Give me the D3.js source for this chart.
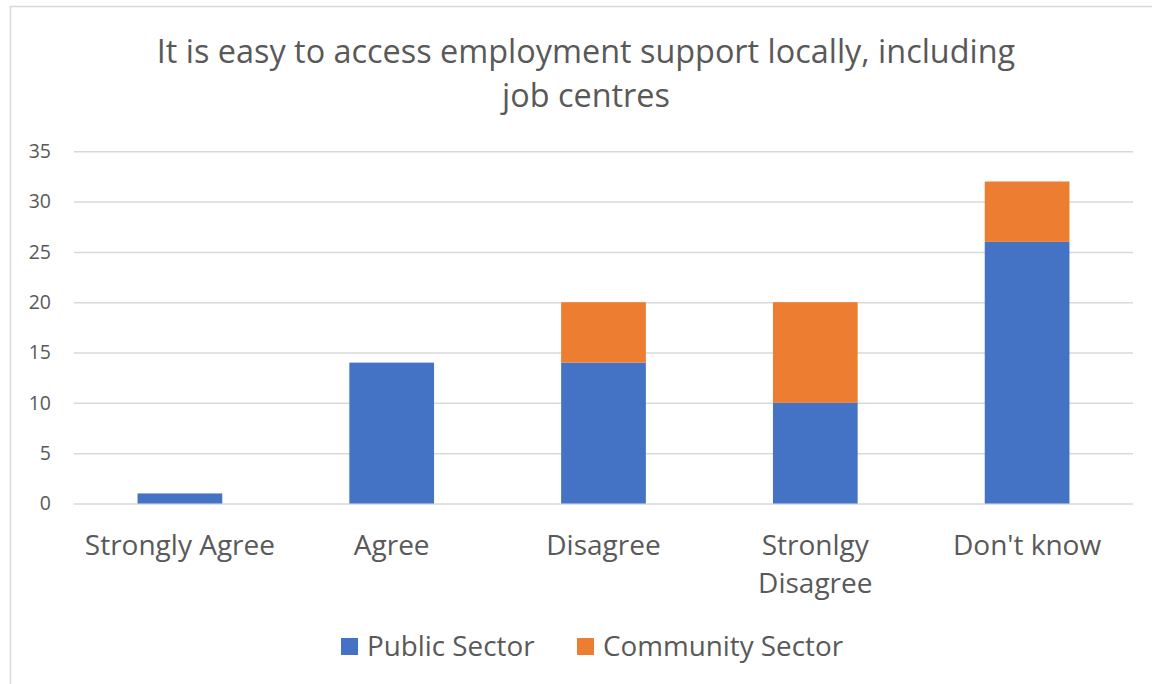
<!DOCTYPE html>
<html>
<head>
<meta charset="utf-8">
<script src="https://cdn.jsdelivr.net/npm/d3@7"></script>
<style>
  html, body { margin: 0; padding: 0; background: #fff; }
  svg { display: block; font-family: "Open Sans", "Noto Sans", sans-serif; }
</style>
</head>
<body>
<svg id="chart" width="1152" height="684"></svg>
<script>
// Survey responses by sector
const categories = ["Strongly Agree", "Agree", "Disagree", "Stronlgy Disagree", "Don't know"];
const publicSector = [1, 14, 14, 10, 26];
const communitySector = [0, 0, 6, 10, 6];
const seriesNames = ["Public Sector", "Community Sector"];
const seriesColors = ["#4472C4", "#ED7D31"];
const yTicks = [0, 5, 10, 15, 20, 25, 30, 35];
const titleLines = ["It is easy to access employment support locally, including", "job centres"];

const svg = d3.select("#chart");
const W = 1152, H = 684;
const textColor = "#595959";
const gridColor = "#d9d9d9";

// chart frame
svg.append("rect")
  .attr("x", 10.5).attr("y", 6.5)
  .attr("width", W + 20).attr("height", H + 20)
  .attr("fill", "#fff").attr("stroke", gridColor).attr("stroke-width", 1.5);

const plot = { left: 74, right: 1133, top: 151.3, bottom: 503.5 };

const x = d3.scaleBand()
  .domain(categories)
  .range([plot.left, plot.right])
  .paddingInner(0.6)
  .paddingOuter(0.3);

const y = d3.scaleLinear()
  .domain([0, 35])
  .range([plot.bottom, plot.top]);

// title
svg.append("text")
  .attr("x", 586).attr("y", 63)
  .attr("text-anchor", "middle")
  .attr("fill", textColor)
  .attr("font-size", 32.4)
  .selectAll("tspan")
  .data(titleLines)
  .join("tspan")
  .attr("x", 586)
  .attr("dy", (d, i) => i === 0 ? 0 : 44)
  .text(d => d);

// gridlines + y labels via axis
const yAxis = d3.axisLeft(y).tickValues(yTicks).tickSize(-(plot.right - plot.left)).tickPadding(23);
const gy = svg.append("g")
  .attr("transform", `translate(${plot.left},0)`)
  .call(yAxis);
gy.select(".domain").remove();
gy.selectAll(".tick line").attr("stroke", gridColor).attr("stroke-width", 1.5);
gy.selectAll(".tick text")
  .attr("fill", textColor)
  .attr("font-size", 19.5)
  .attr("font-family", "Open Sans, sans-serif");

// stacked bars
const rows = categories.map((c, i) => ({ category: c, "Public Sector": publicSector[i], "Community Sector": communitySector[i] }));
const stack = d3.stack().keys(seriesNames)(rows);

svg.append("g")
  .selectAll("g")
  .data(stack)
  .join("g")
  .attr("fill", (d, i) => seriesColors[i])
  .selectAll("rect")
  .data(d => d.filter(p => p[1] - p[0] > 0))
  .join("rect")
  .attr("x", d => x(d.data.category))
  .attr("width", x.bandwidth())
  .attr("y", d => y(d[1]))
  .attr("height", d => y(d[0]) - y(d[1]));

// category labels (wrapped to two lines where needed)
const catLines = c => c === "Stronlgy Disagree" ? ["Stronlgy", "Disagree"] : [c];
const catG = svg.append("g");
categories.forEach(c => {
  const cx = x(c) + x.bandwidth() / 2;
  const t = catG.append("text")
    .attr("text-anchor", "middle")
    .attr("fill", textColor)
    .attr("font-size", 28)
    .attr("y", 555);
  catLines(c).forEach((line, i) => {
    t.append("tspan").attr("x", cx).attr("dy", i === 0 ? 0 : 38).text(line);
  });
});

// legend
const legendItems = [
  { name: seriesNames[0], color: seriesColors[0], sx: 341, tx: 367 },
  { name: seriesNames[1], color: seriesColors[1], sx: 577, tx: 603 }
];
const lg = svg.append("g");
legendItems.forEach(it => {
  lg.append("rect").attr("x", it.sx).attr("y", 638).attr("width", 17).attr("height", 17).attr("fill", it.color);
  lg.append("text").attr("x", it.tx).attr("y", 656).attr("fill", textColor).attr("font-size", 27.8).text(it.name);
});
</script>
</body>
</html>
